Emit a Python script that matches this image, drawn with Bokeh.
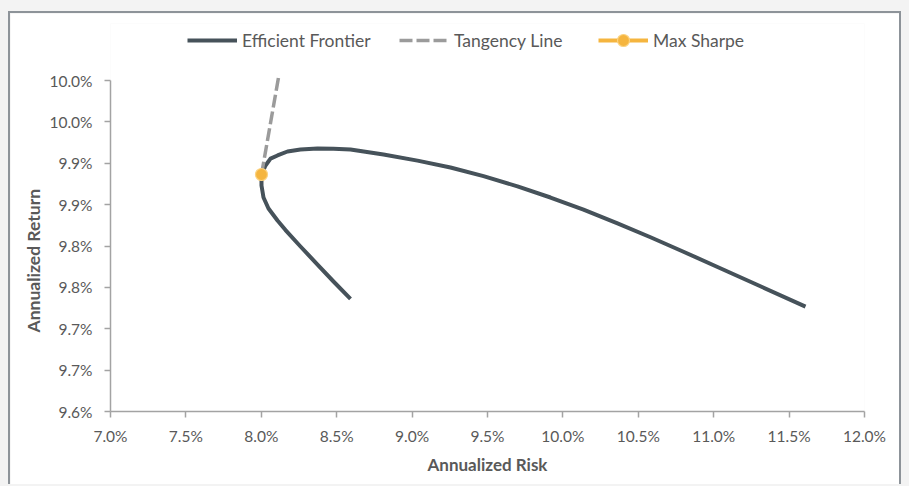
from bokeh.plotting import figure
from bokeh.models import Legend, LegendItem, FixedTicker, Range1d, Title
from bokeh.layouts import column
from bokeh.embed import file_html
from bokeh.resources import INLINE

# ---- data (percent units) ----
frontier_risk = [8.5915, 8.4788, 8.3727, 8.2599, 8.1605, 8.1074, 8.0477, 8.0146, 8.0013, 8.0013,
                 8.0279, 8.0610, 8.1074, 8.1737, 8.2599, 8.3727, 8.4788, 8.5915, 8.8103, 9.0358,
                 9.2546, 9.4735, 9.6989, 9.9178, 10.1366, 10.3621, 10.5809, 10.7997, 11.0252,
                 11.3170, 11.6088]
frontier_return = [9.7360, 9.7571, 9.7776, 9.7994, 9.8193, 9.8308, 9.8453, 9.8586, 9.8731, 9.8864,
                   9.8973, 9.9057, 9.9094, 9.9142, 9.9166, 9.9178, 9.9175, 9.9166, 9.9106, 9.9032,
                   9.8949, 9.8845, 9.8721, 9.8586, 9.8439, 9.8274, 9.8106, 9.7931, 9.7746,
                   9.7507, 9.7268]
tangency_risk = [8.0013, 8.114]
tangency_return = [9.8864, 10.0036]
sharpe_risk = [8.0013]
sharpe_return = [9.8864]

x_ticks = [7.0, 7.5, 8.0, 8.5, 9.0, 9.5, 10.0, 10.5, 11.0, 11.5, 12.0]
x_tick_labels = ["7.0%", "7.5%", "8.0%", "8.5%", "9.0%", "9.5%", "10.0%", "10.5%", "11.0%", "11.5%", "12.0%"]
y_ticks = [9.60, 9.65, 9.70, 9.75, 9.80, 9.85, 9.90, 9.95, 10.00]
y_tick_labels = ["9.6%", "9.7%", "9.7%", "9.8%", "9.8%", "9.9%", "9.9%", "10.0%", "10.0%"]

FONT = "Lato"
TXT = "#595959"
FRONTIER_C = "#46525a"
TANG_C = "#9b9b9b"
SHARPE_C = "#f5b53f"

# frame extends above the 10.0% tick so the legend can sit inside it
p = figure(width=893, height=473, output_backend="svg", toolbar_location=None,
           x_range=Range1d(7.0, 12.0), y_range=Range1d(9.6, 10.0689),
           min_border_left=100, min_border_right=39, min_border_top=10, min_border_bottom=75)
p.border_fill_color = "white"
p.background_fill_color = "white"
p.outline_line_color = None
p.xgrid.visible = False
p.ygrid.visible = False
p.styles = {"border-left": "2px solid #8d9399", "border-top": "2px solid #8d9399",
            "border-right": "2px solid #8d9399", "margin-left": "8px", "margin-top": "11px"}

fr = p.line(frontier_risk, frontier_return, line_color=FRONTIER_C, line_width=4,
            line_join="round")
tg = p.line(tangency_risk, tangency_return, line_color=TANG_C, line_width=3.5,
            line_dash="13 4")
sl = p.line(sharpe_risk, sharpe_return, line_color=SHARPE_C, line_width=4)
sc = p.scatter(sharpe_risk, sharpe_return, size=12, fill_color=SHARPE_C,
               line_color="#fbd27f", line_width=1.2)

for ax in (p.xaxis[0], p.yaxis[0]):
    ax.axis_line_color = "#a3a3a3"
    ax.axis_line_width = 1.5
    ax.major_tick_line_color = "#a3a3a3"
    ax.major_tick_line_width = 1.5
    ax.major_tick_out = 6
    ax.major_tick_in = 0
    ax.minor_tick_line_color = None
    ax.major_label_text_font = FONT
    ax.major_label_text_font_size = "15.5px"
    ax.major_label_text_color = TXT
    ax.axis_label_text_font = FONT
    ax.axis_label_text_font_size = "17px"
    ax.axis_label_text_font_style = "bold"
    ax.axis_label_text_color = TXT

p.yaxis.bounds = (9.6, 10.0)
p.xaxis.ticker = FixedTicker(ticks=x_ticks)
p.yaxis.ticker = FixedTicker(ticks=y_ticks)
p.xaxis.major_label_overrides = {t: l for t, l in zip(x_ticks, x_tick_labels)}
p.yaxis.major_label_overrides = {t: l for t, l in zip(y_ticks, y_tick_labels)}
p.xaxis.axis_label = "Annualized Risk"
p.xaxis.major_label_standoff = 9
p.xaxis.axis_label_standoff = 6
p.yaxis.major_label_standoff = 12

ytitle = Title(text="Annualized Return", align="left", offset=79,
               text_font=FONT, text_font_size="17.5px", text_font_style="bold",
               text_color=TXT, standoff=6)
p.add_layout(ytitle, "left")

def add_legend(label, renderers, x):
    lg = Legend(items=[LegendItem(label=label, renderers=renderers)],
                location=(x, 356), orientation="horizontal",
                glyph_width=50, glyph_height=30, label_standoff=5,
                padding=0, margin=0, border_line_color=None,
                background_fill_alpha=0, label_text_font=FONT,
                label_text_font_size="17.5px", label_text_color=TXT,
                label_height=30)
    p.add_layout(lg, "center")

add_legend("Efficient Frontier", [fr], 77)
add_legend("Tangency Line", [tg], 289)
add_legend("Max Sharpe", [sl, sc], 488)

layout = column(p, styles={"background-color": "#f3f3f3"}, width=909, height=486)

open("out.html", "w").write(file_html(layout, INLINE))
